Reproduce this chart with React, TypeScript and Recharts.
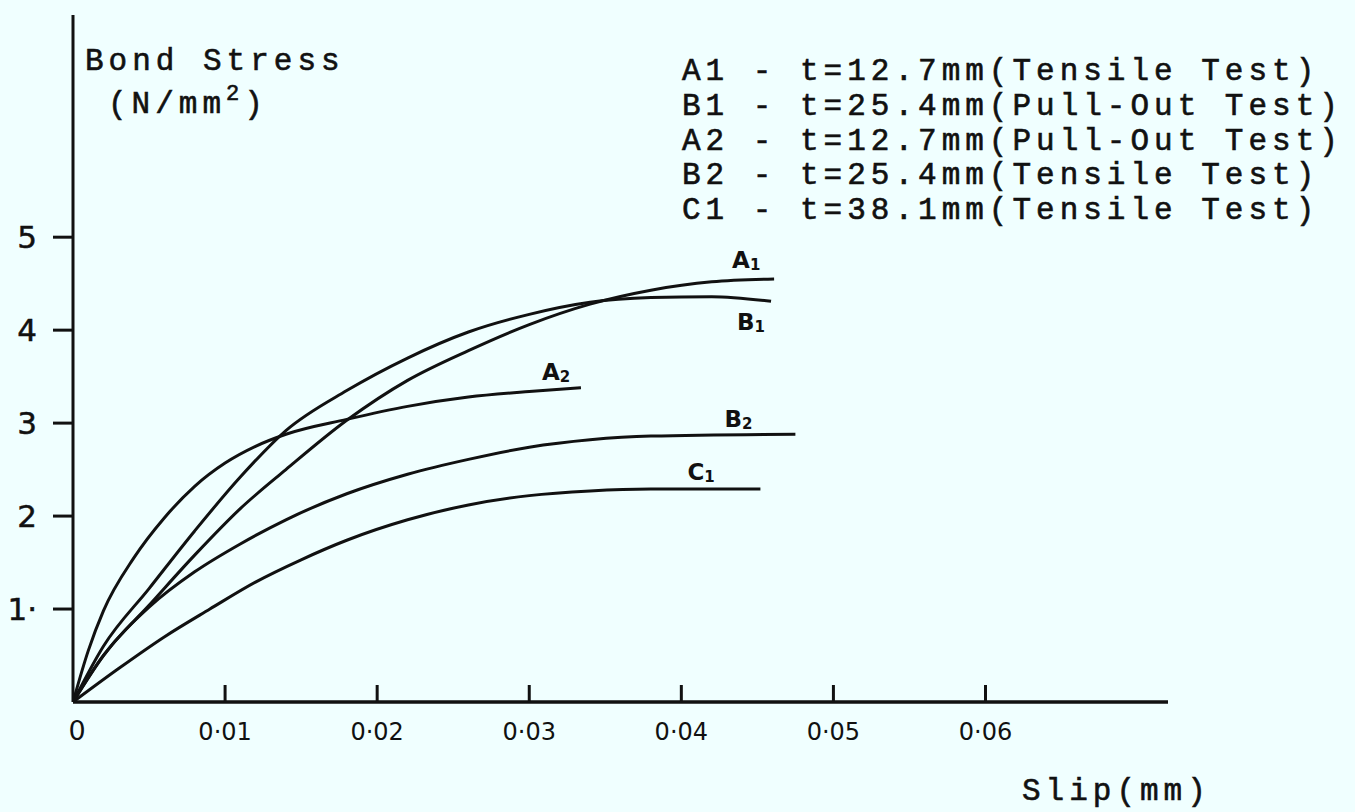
import React from 'react'
import { LineChart, Line, XAxis, YAxis } from 'recharts'

const X_TICKS = [0, 0.01, 0.02, 0.03, 0.04, 0.05, 0.06]
const Y_TICKS = [1, 2, 3, 4, 5]

// slip (mm) / bond stress (N/mm2)
const A1_SLIP = [0, 0.002, 0.005, 0.008, 0.011, 0.014, 0.018, 0.022, 0.026, 0.03, 0.034, 0.038, 0.042, 0.0461]
const A1_STRESS = [0, 0.5, 1.04, 1.58, 2.08, 2.5, 3.03, 3.46, 3.78, 4.06, 4.28, 4.43, 4.52, 4.55]

const B1_SLIP = [0, 0.002, 0.005, 0.008, 0.011, 0.014, 0.018, 0.022, 0.026, 0.03, 0.034, 0.038, 0.042, 0.0459]
const B1_STRESS = [0, 0.6, 1.22, 1.84, 2.42, 2.92, 3.35, 3.7, 3.98, 4.17, 4.3, 4.35, 4.36, 4.31]

const A2_SLIP = [0, 0.001, 0.002, 0.004, 0.006, 0.008, 0.01, 0.012, 0.014, 0.018, 0.022, 0.026, 0.03, 0.0334]
const A2_STRESS = [0, 0.55, 0.98, 1.55, 1.98, 2.32, 2.57, 2.75, 2.88, 3.04, 3.18, 3.28, 3.34, 3.38]

const B2_SLIP = [0, 0.002, 0.005, 0.008, 0.011, 0.014, 0.018, 0.022, 0.026, 0.03, 0.034, 0.038, 0.0475]
const B2_STRESS = [0, 0.5, 1.02, 1.4, 1.7, 1.96, 2.24, 2.45, 2.61, 2.74, 2.82, 2.86, 2.88]

const C1_SLIP = [0, 0.003, 0.006, 0.009, 0.012, 0.015, 0.018, 0.022, 0.026, 0.03, 0.034, 0.038, 0.0452]
const C1_STRESS = [0, 0.36, 0.7, 1.0, 1.29, 1.53, 1.74, 1.96, 2.12, 2.22, 2.27, 2.29, 2.29]

const LEGEND_LINES = [
  'A1 - t=12.7mm(Tensile Test)',
  'B1 - t=25.4mm(Pull-Out Test)',
  'A2 - t=12.7mm(Pull-Out Test)',
  'B2 - t=25.4mm(Tensile Test)',
  'C1 - t=38.1mm(Tensile Test)',
]

const SERIES = [
  { key: 'A1', letter: 'A', sub: '1', slip: A1_SLIP, stress: A1_STRESS, dx: -42, dy: -11 },
  { key: 'B1', letter: 'B', sub: '1', slip: B1_SLIP, stress: B1_STRESS, dx: -34, dy: 29 },
  { key: 'A2', letter: 'A', sub: '2', slip: A2_SLIP, stress: A2_STRESS, dx: -39, dy: -8 },
  { key: 'B2', letter: 'B', sub: '2', slip: B2_SLIP, stress: B2_STRESS, dx: -71, dy: -7 },
  { key: 'C1', letter: 'C', sub: '1', slip: C1_SLIP, stress: C1_STRESS, dx: -73, dy: -9 },
]

const MONO = '"Liberation Mono", "DejaVu Sans Mono", monospace'
const SANS = '"DejaVu Sans", sans-serif'
const INK = '#111'

const fmtX = (v: number) => (v === 0 ? '0' : v.toFixed(2).replace('.', '·'))
const fmtY = (v: number) => (v === 1 ? '1·' : String(v))

function XTick(props: any) {
  const { x, y, payload } = props
  const v = payload.value
  return (
    <g>
      {v !== 0 && <line x1={x} y1={y} x2={x} y2={y - 17} stroke={INK} strokeWidth={3} />}
      <text x={x + (v === 0 ? 4 : 0)} y={y + 38} textAnchor="middle" fontFamily={SANS} fontSize={v === 0 ? 27 : 24} fill={INK}>
        {fmtX(v)}
      </text>
    </g>
  )
}

function YTick(props: any) {
  const { x, y, payload } = props
  return (
    <text x={x} y={y} dy="0.36em" textAnchor="end" fontFamily={SANS} fontSize={31} fill={INK} stroke={INK} strokeWidth={0.5}>
      {fmtY(payload.value)}
    </text>
  )
}

const tagRenderer = (s: typeof SERIES[number]) => (props: any) => {
  if (props.index !== s.slip.length - 1) return null
  return (
    <text x={props.x + s.dx} y={props.y + s.dy} fontFamily={SANS} fontSize={23} fontWeight="bold" fill={INK}>
      {s.letter}
      <tspan fontSize={15} dy={2}>{s.sub}</tspan>
    </text>
  )
}

export default function App() {
  return (
    <div style={{ position: 'relative', width: 1355, height: 812, background: '#F0FFFF' }}>
      <style>{'body{margin:0;background:#F0FFFF}'}</style>
      <LineChart width={1355} height={812} margin={{ top: 15, right: 187, bottom: 0, left: 0 }}>
        <XAxis
          type="number"
          dataKey="slip"
          domain={[0, 0.072]}
          ticks={X_TICKS}
          interval={0}
          allowDataOverflow
          height={110}
          tickSize={0}
          tickMargin={0}
          tickLine={false}
          axisLine={{ stroke: INK, strokeWidth: 3.5 }}
          tick={<XTick />}
        />
        <YAxis
          type="number"
          domain={[0, 7.39]}
          ticks={Y_TICKS}
          interval={0}
          allowDataOverflow
          width={73}
          tickSize={20}
          tickMargin={16}
          axisLine={{ stroke: INK, strokeWidth: 3 }}
          tickLine={{ stroke: INK, strokeWidth: 3 }}
          tick={<YTick />}
        />
        {SERIES.map((s) => (
          <Line
            key={s.key}
            data={s.slip.map((x, i) => ({ slip: x, stress: s.stress[i] }))}
            dataKey="stress"
            type="monotone"
            stroke={INK}
            strokeWidth={3}
            dot={false}
            activeDot={false}
            isAnimationActive={false}
            label={tagRenderer(s)}
          />
        ))}
      </LineChart>
      <svg width={1355} height={812} style={{ position: 'absolute', left: 0, top: 0, pointerEvents: 'none' }}>
        <g fontFamily={MONO} fontSize={31} letterSpacing={5} fill={INK} stroke={INK} strokeWidth={0.6}>
          <text x={85} y={70}>Bond Stress</text>
          <text x={108} y={113}>
            (N/mm<tspan fontSize={22} dy={-13}>2</tspan><tspan dy={13}>)</tspan>
          </text>
          {LEGEND_LINES.map((t, i) => (
            <text key={t} x={682} y={80 + i * 34.8}>{t}</text>
          ))}
          <text x={1022} y={800}>Slip(mm)</text>
        </g>
      </svg>
    </div>
  )
}
